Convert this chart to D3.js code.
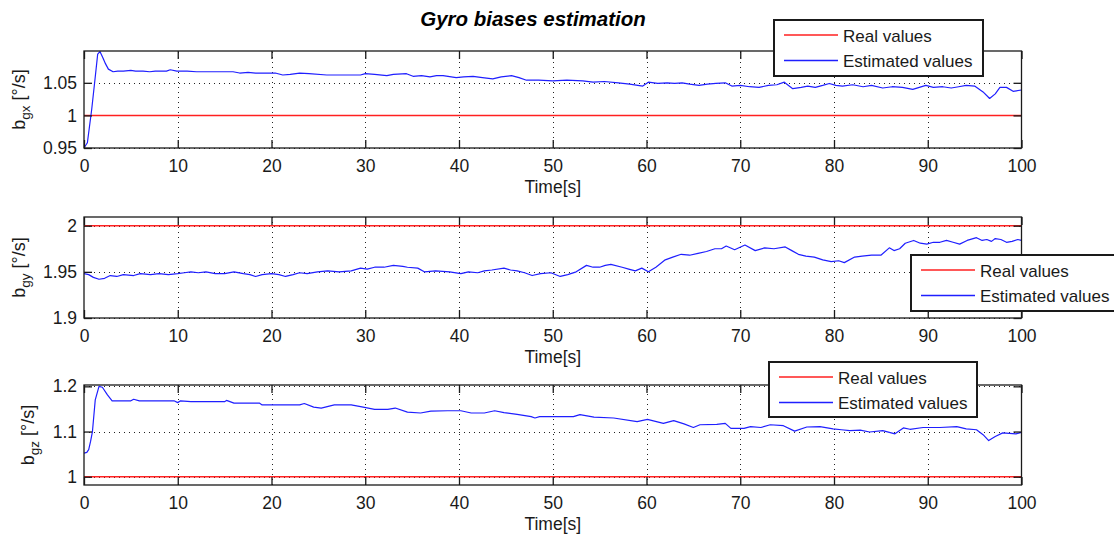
<!DOCTYPE html>
<html>
<head>
<meta charset="utf-8">
<script src="https://cdn.jsdelivr.net/npm/d3@7"></script>
<style>
  body { margin: 0; background: #fff; }
  svg { display: block; font-family: "Liberation Sans", Arial, Helvetica, sans-serif; }
</style>
</head>
<body>
<svg id="chart" width="1114" height="535"></svg>
<script>
// ---- data -------------------------------------------------------------
const chartTitle = "Gyro biases estimation";
const timeTicks = [0, 10, 20, 30, 40, 50, 60, 70, 80, 90, 100];
const legendLabels = ["Real values", "Estimated values"];

// x-axis gyro bias
const gxTicks = [0.95, 1, 1.05];
const gxReal = 1;
const gxTime = [0, 0.36, 0.82, 1.17, 1.46, 1.7, 2.0, 2.3, 2.6, 3.1, 3.6, 4.2, 5.0, 5.5, 6.3, 7.0, 7.6, 8.8, 9.2, 9.9,
  11, 12, 13.8, 14.5, 15.9, 16.6, 17.5, 18.3, 19.5, 20.4, 21.2, 22, 23, 24, 25.9, 27, 28, 29.5, 30, 31,
  32.3, 33, 34.4, 35.1, 36, 36.9, 37.6, 38.3, 39.7, 40.5, 41.5, 42.5, 43.6, 44.5, 45.6, 46.4, 47.2, 48.5, 50, 51.5,
  53.2, 54.3, 55.5, 57, 58.2, 59.6, 60.2, 61.2, 62.2, 63, 63.8, 64.6, 65.6, 66.5, 67.4, 68.4, 69.1, 70, 71, 72,
  73, 73.9, 74.7, 75.6, 76.5, 77.2, 78, 78.8, 79.5, 80.2, 80.9, 82, 83.1, 84, 85.2, 86.2, 87.3, 88.4, 89.1, 89.8,
  90.6, 91.6, 92.5, 93.3, 94.1, 95, 95.9, 96.6, 97.2, 97.7, 98.4, 99.1, 100];
const gxEst = [0.950, 0.958, 1.009, 1.055, 1.094, 1.098, 1.089, 1.079, 1.071, 1.067, 1.068, 1.068, 1.069, 1.068, 1.068, 1.067, 1.068, 1.068, 1.070, 1.068,
  1.068, 1.067, 1.067, 1.067, 1.067, 1.065, 1.066, 1.065, 1.065, 1.065, 1.062, 1.063, 1.065, 1.064, 1.062, 1.062, 1.062, 1.062, 1.064, 1.063,
  1.061, 1.063, 1.064, 1.060, 1.061, 1.059, 1.061, 1.061, 1.058, 1.059, 1.060, 1.058, 1.056, 1.059, 1.061, 1.058, 1.054, 1.054, 1.053, 1.054,
  1.053, 1.051, 1.052, 1.050, 1.048, 1.045, 1.051, 1.049, 1.050, 1.049, 1.050, 1.048, 1.046, 1.048, 1.049, 1.050, 1.045, 1.046, 1.044, 1.043,
  1.046, 1.047, 1.051, 1.041, 1.043, 1.045, 1.043, 1.046, 1.049, 1.046, 1.045, 1.047, 1.044, 1.046, 1.042, 1.044, 1.043, 1.040, 1.043, 1.046,
  1.043, 1.044, 1.042, 1.044, 1.046, 1.045, 1.036, 1.026, 1.033, 1.043, 1.043, 1.037, 1.039];

// y-axis gyro bias
const gyTicks = [1.9, 1.95, 2];
const gyReal = 2;
const gyTime = [0, 0.5, 1.0, 1.6, 2.2, 2.8, 3.5, 4.2, 5.3, 6.0, 7.1, 8.0, 9.0, 10, 10.7, 11.4, 12.2, 13, 14, 15,
  16, 17, 17.7, 18.3, 19, 20, 20.8, 21.5, 22.3, 23, 23.8, 24.9, 26, 27.2, 28.5, 29.5, 30.2, 31, 32, 33,
  34, 34.5, 35.6, 36.3, 37.5, 39, 40.2, 41, 42, 42.7, 43.5, 44.8, 45.5, 46.2, 47, 47.8, 48.7, 49.8, 50.8, 51.6,
  52.5, 53.6, 54.3, 55.0, 55.6, 56.2, 57.4, 58.1, 58.8, 59.5, 60.2, 61, 62.0, 62.8, 63.7, 64.6, 65.5, 66.4, 67.3, 68.0,
  68.5, 69.4, 70.5, 71.6, 72.6, 73.6, 74.8, 75.5, 76.2, 77, 77.9, 78.8, 79.7, 80.5, 81.1, 82.2, 83, 84, 85.0, 85.9,
  86.4, 87.0, 87.6, 88.5, 89.2, 89.9, 90.6, 91.3, 92.0, 92.7, 93.4, 94.2, 95.2, 95.8, 96.3, 96.8, 97.2, 97.8, 98.4, 99.0,
  99.6, 100];
const gyEst = [1.948, 1.947, 1.944, 1.942, 1.943, 1.946, 1.945, 1.947, 1.946, 1.948, 1.947, 1.948, 1.947, 1.948, 1.949, 1.950, 1.949, 1.950, 1.948, 1.948,
  1.950, 1.948, 1.947, 1.945, 1.947, 1.948, 1.947, 1.945, 1.947, 1.949, 1.948, 1.950, 1.951, 1.950, 1.951, 1.954, 1.953, 1.955, 1.955, 1.957,
  1.956, 1.955, 1.954, 1.950, 1.951, 1.950, 1.948, 1.950, 1.949, 1.951, 1.952, 1.954, 1.952, 1.951, 1.949, 1.946, 1.948, 1.949, 1.945, 1.947,
  1.950, 1.957, 1.955, 1.955, 1.957, 1.958, 1.955, 1.953, 1.951, 1.954, 1.950, 1.955, 1.963, 1.966, 1.969, 1.968, 1.970, 1.972, 1.975, 1.975,
  1.978, 1.974, 1.979, 1.973, 1.976, 1.975, 1.977, 1.973, 1.969, 1.967, 1.966, 1.963, 1.961, 1.962, 1.960, 1.966, 1.967, 1.968, 1.968, 1.976,
  1.973, 1.975, 1.981, 1.984, 1.981, 1.980, 1.982, 1.982, 1.984, 1.982, 1.980, 1.984, 1.987, 1.984, 1.985, 1.983, 1.986, 1.985, 1.982, 1.983,
  1.985, 1.984];

// z-axis gyro bias
const gzTicks = [1, 1.1, 1.2];
const gzReal = 1;
const gzTime = [0, 0.3, 0.5, 0.7, 0.9, 1.2, 1.6, 1.96, 2.5, 3.0, 4.0, 5.0, 5.3, 5.9, 7, 8.5, 9.6, 10.0, 10.3, 11.4,
  13, 15, 15.2, 16, 18.7, 19, 21, 23, 23.5, 24.5, 25.3, 26.7, 28.5, 29.5, 31, 32.4, 33.2, 34.5, 35.9, 37,
  38.8, 40.2, 41.3, 42.7, 43.8, 44.8, 46.2, 47.7, 48.1, 48.6, 50.2, 52.2, 52.9, 54.4, 56.5, 59.0, 60.1, 61.8, 62.9, 64,
  65.0, 65.7, 67.5, 68.4, 69.0, 70.4, 71.1, 72.2, 73.2, 74.6, 75.8, 77.1, 78.5, 79.9, 80.8, 81.7, 82.8, 83.8, 85.2, 86.5,
  87.4, 88.1, 89.5, 91.3, 93.1, 94.1, 95.2, 95.9, 96.5, 97.2, 98.0, 99.4, 100];
const gzEst = [1.052, 1.054, 1.060, 1.078, 1.100, 1.170, 1.200, 1.198, 1.181, 1.168, 1.168, 1.168, 1.1715, 1.168, 1.168, 1.168, 1.168, 1.164, 1.168, 1.166,
  1.166, 1.166, 1.169, 1.163, 1.163, 1.159, 1.159, 1.159, 1.162, 1.154, 1.152, 1.159, 1.159, 1.155, 1.149, 1.149, 1.152, 1.143, 1.141, 1.145,
  1.146, 1.146, 1.141, 1.141, 1.146, 1.142, 1.138, 1.133, 1.130, 1.133, 1.133, 1.133, 1.1375, 1.132, 1.130, 1.122, 1.127, 1.118, 1.124, 1.117,
  1.109, 1.115, 1.116, 1.118, 1.107, 1.107, 1.111, 1.109, 1.115, 1.113, 1.101, 1.110, 1.111, 1.106, 1.104, 1.102, 1.103, 1.099, 1.102, 1.095,
  1.108, 1.105, 1.109, 1.109, 1.111, 1.106, 1.104, 1.093, 1.080, 1.089, 1.097, 1.095, 1.098];

// ---- layout -----------------------------------------------------------
const plotLeft = 84, plotRight = 1021.5;
const panels = [
  { top: 51,  bottom: 148, domain: [0.95, 1.0988], ticks: gxTicks, time: gxTime, est: gxEst, real: gxReal,
    sub: "gx", labelX: 25, legend: { x: 774, y: 20, w: 209, h: 56 } },
  { top: 217, bottom: 318, domain: [1.9, 2.0094], ticks: gyTicks, time: gyTime, est: gyEst, real: gyReal,
    sub: "gy", labelX: 25, legend: { x: 911, y: 255, w: 209, h: 56 } },
  { top: 385, bottom: 485, domain: [0.9817, 1.203], ticks: gzTicks, time: gzTime, est: gzEst, real: gzReal,
    sub: "gz", labelX: 34, legend: { x: 769, y: 362, w: 208, h: 55 } }
];

const ink = "#1a1a1a";
const realColor = "#ff2020";
const estColor = "#1f1fff";

const svg = d3.select("#chart");
const x = d3.scaleLinear().domain([0, 100]).range([plotLeft, plotRight]);

svg.append("text")
  .attr("x", 533).attr("y", 26)
  .attr("text-anchor", "middle")
  .attr("font-size", 20.5).attr("font-weight", "bold").attr("font-style", "italic")
  .attr("fill", "#000")
  .text(chartTitle);

panels.forEach((p, i) => {
  const y = d3.scaleLinear().domain(p.domain).range([p.bottom, p.top]);
  const h = p.bottom - p.top;
  const g = svg.append("g");

  // dotted grid
  const gridStyle = s => {
    s.select(".domain").remove();
    s.selectAll(".tick line").attr("stroke", "#222").attr("stroke-dasharray", "1,4")
      .attr("shape-rendering", "crispEdges");
  };
  g.append("g").attr("transform", `translate(0,${p.bottom})`)
    .call(d3.axisBottom(x).tickValues(timeTicks.slice(1, -1)).tickSize(-h).tickFormat(""))
    .call(gridStyle);
  g.append("g").attr("transform", `translate(${plotLeft},0)`)
    .call(d3.axisLeft(y).tickValues(p.ticks).tickSize(-(plotRight - plotLeft)).tickFormat(""))
    .call(gridStyle);

  // data lines
  const clipId = "clip" + i;
  svg.append("clipPath").attr("id", clipId).append("rect")
    .attr("x", plotLeft).attr("y", p.top - 1).attr("width", plotRight - plotLeft).attr("height", h + 2);
  const lines = g.append("g").attr("clip-path", `url(#${clipId})`);
  lines.append("path")
    .datum([0, 100])
    .attr("fill", "none").attr("stroke", realColor).attr("stroke-width", 1.5)
    .attr("d", d3.line().x(d => x(d)).y(() => y(p.real)));
  const est = p.time.map((t, k) => [t, p.est[k]]);
  lines.append("path")
    .datum(est)
    .attr("fill", "none").attr("stroke", estColor).attr("stroke-width", 1.2)
    .attr("stroke-linejoin", "round")
    .attr("d", d3.line().x(d => x(d[0])).y(d => y(d[1])));

  // axes with inward ticks on all four sides
  const axisStyle = s => {
    s.select(".domain").remove();
    s.selectAll(".tick line").attr("stroke", ink).attr("stroke-width", 1.3);
    s.selectAll(".tick text").attr("fill", ink).attr("font-size", 17.5)
      .attr("font-family", "'Liberation Sans', Arial, sans-serif");
  };
  g.append("g").attr("transform", `translate(0,${p.bottom})`)
    .call(d3.axisBottom(x).tickValues(timeTicks).tickSizeInner(-8).tickSizeOuter(0).tickPadding(12)
      .tickFormat(d3.format("d")))
    .call(axisStyle);
  g.append("g").attr("transform", `translate(0,${p.top})`)
    .call(d3.axisTop(x).tickValues(timeTicks).tickSizeInner(-8).tickSizeOuter(0).tickFormat(""))
    .call(axisStyle);
  g.append("g").attr("transform", `translate(${plotLeft},0)`)
    .call(d3.axisLeft(y).tickValues(p.ticks).tickSizeInner(-8).tickSizeOuter(0).tickPadding(7)
      .tickFormat(d => String(+d.toFixed(2))))
    .call(axisStyle);
  g.append("g").attr("transform", `translate(${plotRight},0)`)
    .call(d3.axisRight(y).tickValues(p.ticks).tickSizeInner(-8).tickSizeOuter(0).tickFormat(""))
    .call(axisStyle);

  // frame
  g.append("rect")
    .attr("x", plotLeft).attr("y", p.top)
    .attr("width", plotRight - plotLeft).attr("height", h)
    .attr("fill", "none").attr("stroke", ink).attr("stroke-width", 1.3);

  // axis titles
  g.append("text")
    .attr("x", (plotLeft + plotRight) / 2).attr("y", p.bottom + 45)
    .attr("text-anchor", "middle").attr("font-size", 17.5).attr("fill", ink)
    .text("Time[s]");

  const cy = (p.top + p.bottom) / 2;
  const yl = g.append("text")
    .attr("transform", `translate(${p.labelX},${cy}) rotate(-90)`)
    .attr("text-anchor", "middle").attr("font-size", 18).attr("fill", ink);
  yl.append("tspan").text("b");
  yl.append("tspan").attr("font-size", 13.5).attr("dy", 5).text(p.sub);
  yl.append("tspan").attr("dy", -5).text(" [°/s]");

  // legend
  const L = p.legend;
  const lg = svg.append("g").attr("transform", `translate(${L.x},${L.y})`);
  lg.append("rect").attr("width", L.w).attr("height", L.h)
    .attr("fill", "#fff").attr("stroke", ink).attr("stroke-width", 1.2)
    .attr("shape-rendering", "crispEdges");
  [realColor, estColor].forEach((c, k) => {
    const ly = 15 + k * 25.5;
    lg.append("line").attr("x1", 10).attr("x2", 64).attr("y1", ly).attr("y2", ly)
      .attr("stroke", c).attr("stroke-width", 1.3);
    lg.append("text").attr("x", 69).attr("y", ly + 6.5)
      .attr("font-size", 17).attr("fill", ink).text(legendLabels[k]);
  });
});
</script>
</body>
</html>
